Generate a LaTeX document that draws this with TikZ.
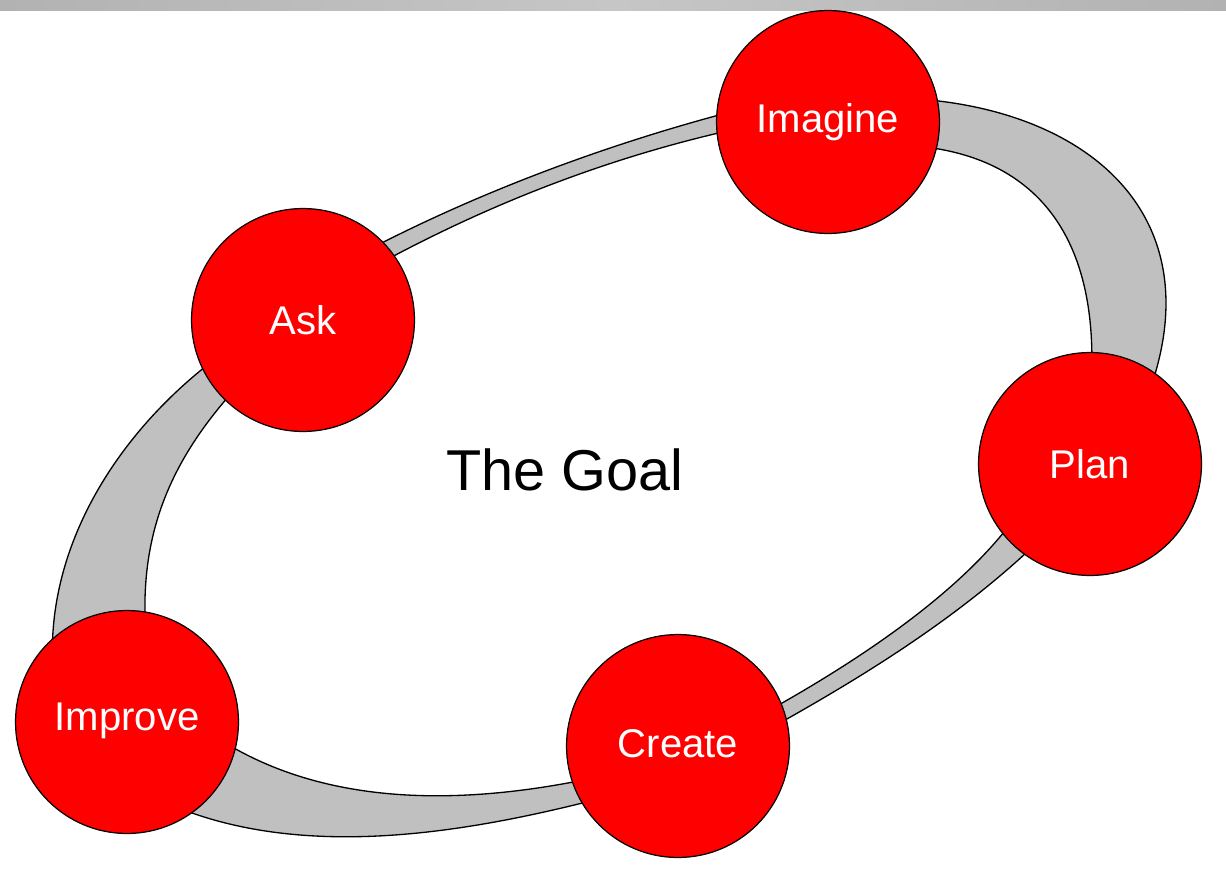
\documentclass[tikz,border=0pt]{standalone}
\usepackage{fontspec}
\setmainfont{Liberation Sans}
\definecolor{ringgray}{RGB}{192,192,192}
\definecolor{barA}{RGB}{178,178,178}
\definecolor{barB}{RGB}{198,198,198}
\definecolor{stepred}{RGB}{255,0,0}
\tikzset{
  stage/.style={circle, draw=black, line width=0.7pt, fill=stepred, minimum size=4.46cm, inner sep=0pt,
    text=white, font=\fontsize{22.8}{26}\selectfont},
  ring/.style={fill=ringgray, draw=black, line width=0.75pt, line join=round},
  goal/.style={font=\fontsize{32.8}{38}\selectfont, text=black}
}
\begin{document}
\begin{tikzpicture}[x=0.02cm, y=-0.02cm]
\useasboundingbox (0,0) rectangle (1226,882);
\shade[left color=barA, right color=barA, middle color=barB] (0,0) rectangle (1226,11);
% band Imagine -> Plan
\path[ring] (900,98) .. controls (1090,105) and (1225,220) .. (1140,415)
  -- (1090,400) .. controls (1105,230) and (1030,150) .. (900,145) -- cycle;
% band Plan -> Create
\path[ring] (1050,530) .. controls (961,619) and (850,685) .. (740,745)
  -- (733,730) .. controls (865,660) and (980,580) .. (1030,495) -- cycle;
% band Create -> Improve
\path[ring] (625,792) .. controls (469,834) and (283,868) .. (140,790)
  -- (200,726) .. controls (320,815) and (481,805) .. (620,772) -- cycle;
% band Improve -> Ask
\path[ring] (250,335) .. controls (130,410) and (35,545) .. (55,690)
  -- (150,670) .. controls (130,540) and (170,455) .. (252,371) -- cycle;
% band Ask -> Imagine
\path[ring] (340,265) .. controls (471,193) and (624,137) .. (770,102)
  -- (770,122) .. controls (624,150) and (483,204) .. (350,280) -- cycle;
\node[goal] (goal) at (565,470) {The Goal};
\node[stage] (imagine) at (828,122) {Imagine};
\node[stage] (ask) at (303,320) {Ask};
\node[stage] (plan) at (1090,464) {Plan};
\node[stage] (create) at (678,746) {\raisebox{3pt}{Create}};
\node[stage] (improve) at (127,722) {\raisebox{6pt}{Improve}};
\end{tikzpicture}
\end{document}
